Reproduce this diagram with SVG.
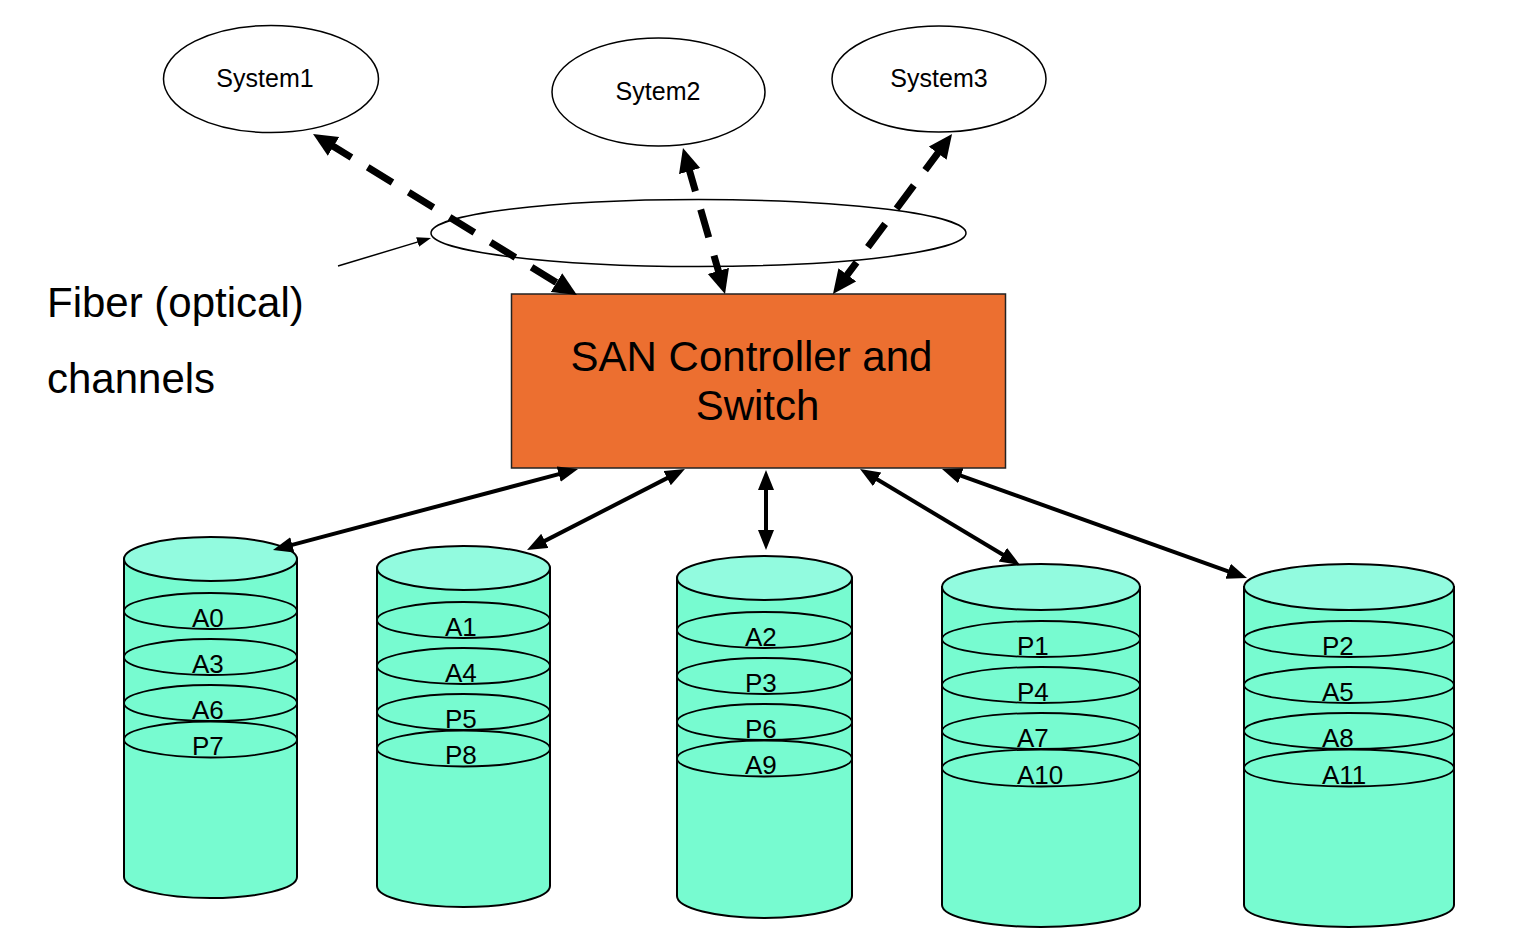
<svg xmlns="http://www.w3.org/2000/svg" width="1526" height="934" viewBox="0 0 1526 934">
<defs>
<style>
text{font-family:"Liberation Sans",Arial,Helvetica,sans-serif;fill:#000}
.sys{fill:#fff;stroke:#000;stroke-width:1.5}
.sysT{font-size:25px;text-anchor:middle}
.big{font-size:42px}
.san{font-size:42px;text-anchor:middle}
.body{fill:#77FBD0;stroke:#000;stroke-width:2}
.top{fill:#92FBDF;stroke:#000;stroke-width:2}
.band{fill:none;stroke:#000;stroke-width:1.8}
.lbl{font-size:26px}
.dash{stroke:#000;stroke-width:7;fill:none;stroke-dasharray:29 19;marker-start:url(#hd);marker-end:url(#hd)}
.solid{stroke:#000;stroke-width:4;fill:none;marker-start:url(#hs);marker-end:url(#hs)}
.thin{stroke:#000;stroke-width:1.5;fill:none;marker-end:url(#ht)}
</style>
<marker id="hd" markerUnits="userSpaceOnUse" markerWidth="26" markerHeight="24" refX="8" refY="11" orient="auto-start-reverse" viewBox="0 0 26 24"><path d="M0,0 L24,11 L0,22 z" fill="#000"/></marker>
<marker id="hs" markerUnits="userSpaceOnUse" markerWidth="22" markerHeight="18" refX="6" refY="8" orient="auto-start-reverse" viewBox="0 0 22 18"><path d="M0,0 L20,8 L0,16 z" fill="#000"/></marker>
<marker id="ht" markerUnits="userSpaceOnUse" markerWidth="16" markerHeight="12" refX="4" refY="5" orient="auto" viewBox="0 0 16 12"><path d="M0,0 L14,5 L0,10 z" fill="#000"/></marker>
</defs>
<rect width="1526" height="934" fill="#fff"/>

<g id="system1"><ellipse class="sys" cx="271" cy="79" rx="107.5" ry="53.5"/><text class="sysT" x="265" y="87">System1</text></g>
<g id="system2"><ellipse class="sys" cx="658.5" cy="92" rx="106.5" ry="54"/><text class="sysT" x="658" y="100">Sytem2</text></g>
<g id="system3"><ellipse class="sys" cx="939" cy="79" rx="107" ry="53"/><text class="sysT" x="939" y="87">System3</text></g>

<g id="fiber"><ellipse class="sys" fill="none" cx="698.5" cy="233" rx="267.5" ry="33.5"/></g>
<g id="fiber-label"><text class="big" x="47" y="317">Fiber (optical)</text><text class="big" x="47" y="393">channels</text></g>

<g id="san"><rect x="511.5" y="294" width="494" height="174" fill="#EC6F30" stroke="#222" stroke-width="1.5"/><text class="san" x="751.5" y="371">SAN Controller and</text><text class="san" x="757.5" y="420">Switch</text></g>

<g id="disk1">
<path class="body" d="M124,559 V877 A86.5,21 0 0 0 297,877 V559 Z"/>
<ellipse class="top" cx="210.5" cy="559" rx="86.5" ry="22"/>
<ellipse class="band" cx="210.5" cy="611" rx="86.5" ry="18"/>
<ellipse class="band" cx="210.5" cy="657" rx="86.5" ry="18"/>
<ellipse class="band" cx="210.5" cy="703" rx="86.5" ry="18"/>
<ellipse class="band" cx="210.5" cy="739.5" rx="86.5" ry="18"/>
<text class="lbl" x="192" y="626.5">A0</text><text class="lbl" x="192" y="672.5">A3</text><text class="lbl" x="192" y="718.5">A6</text><text class="lbl" x="192" y="755">P7</text>
</g>
<g id="disk2">
<path class="body" d="M377,568 V886 A86.5,21 0 0 0 550,886 V568 Z"/>
<ellipse class="top" cx="463.5" cy="568" rx="86.5" ry="22"/>
<ellipse class="band" cx="463.5" cy="620" rx="86.5" ry="18"/>
<ellipse class="band" cx="463.5" cy="666" rx="86.5" ry="18"/>
<ellipse class="band" cx="463.5" cy="712" rx="86.5" ry="18"/>
<ellipse class="band" cx="463.5" cy="748.5" rx="86.5" ry="18"/>
<text class="lbl" x="445" y="635.5">A1</text><text class="lbl" x="445" y="681.5">A4</text><text class="lbl" x="445" y="727.5">P5</text><text class="lbl" x="445" y="764">P8</text>
</g>
<g id="disk3">
<path class="body" d="M677,578 V896 A87.5,22 0 0 0 852,896 V578 Z"/>
<ellipse class="top" cx="764.5" cy="578" rx="87.5" ry="22"/>
<ellipse class="band" cx="764.5" cy="630" rx="87.5" ry="18"/>
<ellipse class="band" cx="764.5" cy="676" rx="87.5" ry="18"/>
<ellipse class="band" cx="764.5" cy="722" rx="87.5" ry="18"/>
<ellipse class="band" cx="764.5" cy="758.5" rx="87.5" ry="18"/>
<text class="lbl" x="745" y="645.5">A2</text><text class="lbl" x="745" y="691.5">P3</text><text class="lbl" x="745" y="737.5">P6</text><text class="lbl" x="745" y="774">A9</text>
</g>
<g id="disk4">
<path class="body" d="M942,587 V905 A99,22 0 0 0 1140,905 V587 Z"/>
<ellipse class="top" cx="1041" cy="587" rx="99" ry="23"/>
<ellipse class="band" cx="1041" cy="639" rx="99" ry="18"/>
<ellipse class="band" cx="1041" cy="685" rx="99" ry="18"/>
<ellipse class="band" cx="1041" cy="731" rx="99" ry="18"/>
<ellipse class="band" cx="1041" cy="768" rx="99" ry="18.5"/>
<text class="lbl" x="1017" y="655">P1</text><text class="lbl" x="1017" y="701">P4</text><text class="lbl" x="1017" y="747">A7</text><text class="lbl" x="1017" y="784">A10</text>
</g>
<g id="disk5">
<path class="body" d="M1244,587 V905 A105,22 0 0 0 1454,905 V587 Z"/>
<ellipse class="top" cx="1349" cy="587" rx="105" ry="23"/>
<ellipse class="band" cx="1349" cy="639" rx="105" ry="18"/>
<ellipse class="band" cx="1349" cy="685" rx="105" ry="18"/>
<ellipse class="band" cx="1349" cy="731" rx="105" ry="18"/>
<ellipse class="band" cx="1349" cy="768" rx="105" ry="18.5"/>
<text class="lbl" x="1322" y="655">P2</text><text class="lbl" x="1322" y="701">A5</text><text class="lbl" x="1322" y="747">A8</text><text class="lbl" x="1322" y="784">A11</text>
</g>

<g id="connectors">
<line class="dash" x1="326.7" y1="142.3" x2="563.3" y2="286.7"/>
<line class="dash" x1="687.4" y1="163.4" x2="720.6" y2="278.6"/>
<line class="dash" x1="942.5" y1="146.8" x2="842.5" y2="281.2"/>
<line class="thin" x1="338" y1="266" x2="421.4" y2="240.9"/>
<line class="solid" x1="564.5" y1="472.6" x2="286.5" y2="546.4"/>
<line class="solid" x1="672.5" y1="475.4" x2="539.5" y2="543.6"/>
<line class="solid" x1="766" y1="484" x2="766" y2="536"/>
<line class="solid" x1="872" y1="476.2" x2="1008" y2="557.8"/>
<line class="solid" x1="955.2" y1="473.7" x2="1233.8" y2="573.3"/>
</g>
</svg>
